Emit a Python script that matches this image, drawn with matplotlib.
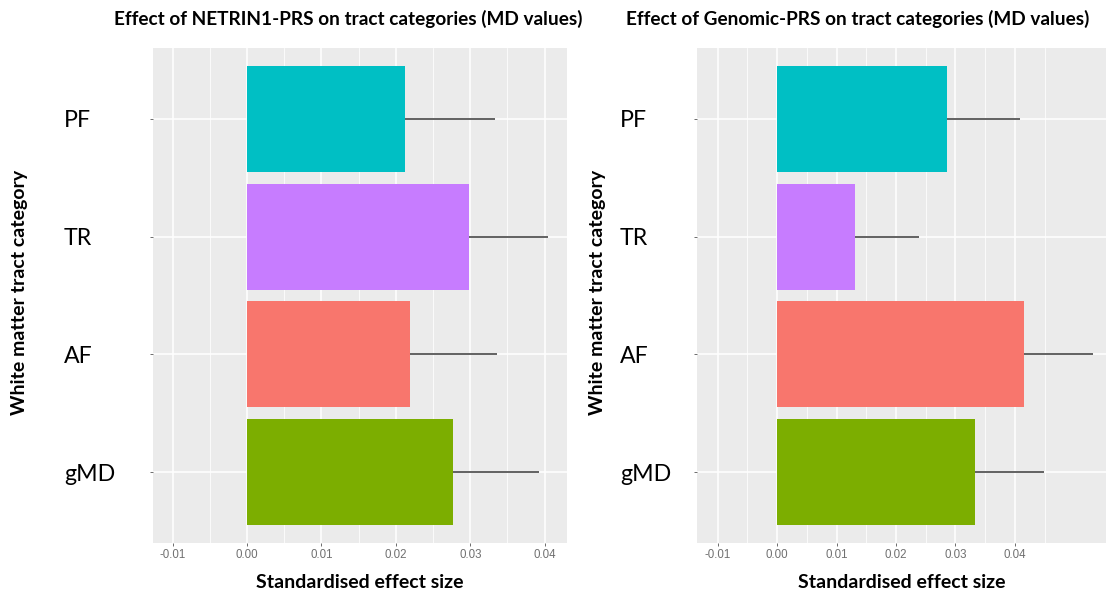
import matplotlib
matplotlib.use("Agg")
import matplotlib.pyplot as plt
import numpy as np

categories = ["gMD", "AF", "TR", "PF"]
colors = ["#7CAE00", "#F8766D", "#C77CFF", "#00BFC4"]

netrin_effect = [0.0277, 0.0219, 0.0298, 0.0212]
netrin_upper = [0.0392, 0.0336, 0.0405, 0.0333]

genomic_effect = [0.0333, 0.0415, 0.0131, 0.0286]
genomic_upper = [0.0449, 0.0531, 0.0239, 0.0408]

titles = ["Effect of NETRIN1-PRS on tract categories (MD values)",
          "Effect of Genomic-PRS on tract categories (MD values)"]
xticks = [-0.01, 0.00, 0.01, 0.02, 0.03, 0.04]
xticklabels = ["-0.01", "0.00", "0.01", "0.02", "0.03", "0.04"]

W, H = 1112, 595
fig = plt.figure(figsize=(W / 100, H / 100), dpi=100)

TOP, BOT = 48, 543
panels = [
    dict(rect=[153 / W, 1 - BOT / H, (567 - 153) / W, (BOT - TOP) / H],
         eff=netrin_effect, up=netrin_upper, xlim=(-0.01263, 0.0430),
         ylab_x=20 / W, pad=62.0, title=titles[0], tx=348 / W),
    dict(rect=[697 / W, 1 - BOT / H, (1106 - 697) / W, (BOT - TOP) / H],
         eff=genomic_effect, up=genomic_upper, xlim=(-0.01345, 0.0553),
         ylab_x=597 / W, pad=53.5, title=titles[1], tx=858 / W),
]

font_cal = "Lato"
for p in panels:
    ax = fig.add_axes(p["rect"])
    ax.set_facecolor("#EBEBEB")
    y = np.arange(len(categories)) + 1
    eff = np.array(p["eff"])
    up = np.array(p["up"])
    lo = eff - (up - eff)
    ax.hlines(y, lo, up, color="#555555", lw=1.3, zorder=2)
    ax.barh(y, eff, height=0.9, color=colors, zorder=3)
    ax.set_xlim(*p["xlim"])
    ax.set_ylim(0.4, 4.6)
    ax.set_xticks(xticks)
    ax.set_xticklabels(xticklabels, fontsize=8.3, color="#707070",
                       family="Liberation Sans")
    minor = [v + 0.005 for v in xticks] + [xticks[0] - 0.005]
    minor = [m for m in minor if p["xlim"][0] < m < p["xlim"][1]]
    ax.set_xticks(minor, minor=True)
    ax.set_yticks(y)
    ax.set_yticklabels(categories, fontsize=16.7, family=font_cal, ha="left")
    ax.tick_params(axis="y", length=2, width=0.6, color="#555555", pad=p["pad"])
    ax.tick_params(axis="x", which="major", length=2, width=0.6, color="#555555", pad=2)
    ax.tick_params(axis="x", which="minor", length=0)
    ax.grid(True, which="major", color="white", lw=1.1, zorder=0)
    ax.grid(True, which="minor", axis="x", color="white", lw=0.55, zorder=0)
    ax.set_axisbelow(True)
    for s in ax.spines.values():
        s.set_visible(False)
    ax.set_xlabel("Standardised effect size", fontsize=14, fontweight="bold",
                  family=font_cal, labelpad=10)
    fig.text(p["tx"], 1 - 19 / H, p["title"], ha="center", va="center",
             fontsize=13.7, fontweight="bold", family=font_cal)
    fig.text(p["ylab_x"], 1 - 292 / H, "White matter tract category", rotation=90,
             ha="center", va="center", fontsize=14, fontweight="bold", family=font_cal)

fig.savefig("out.png", dpi=100)
